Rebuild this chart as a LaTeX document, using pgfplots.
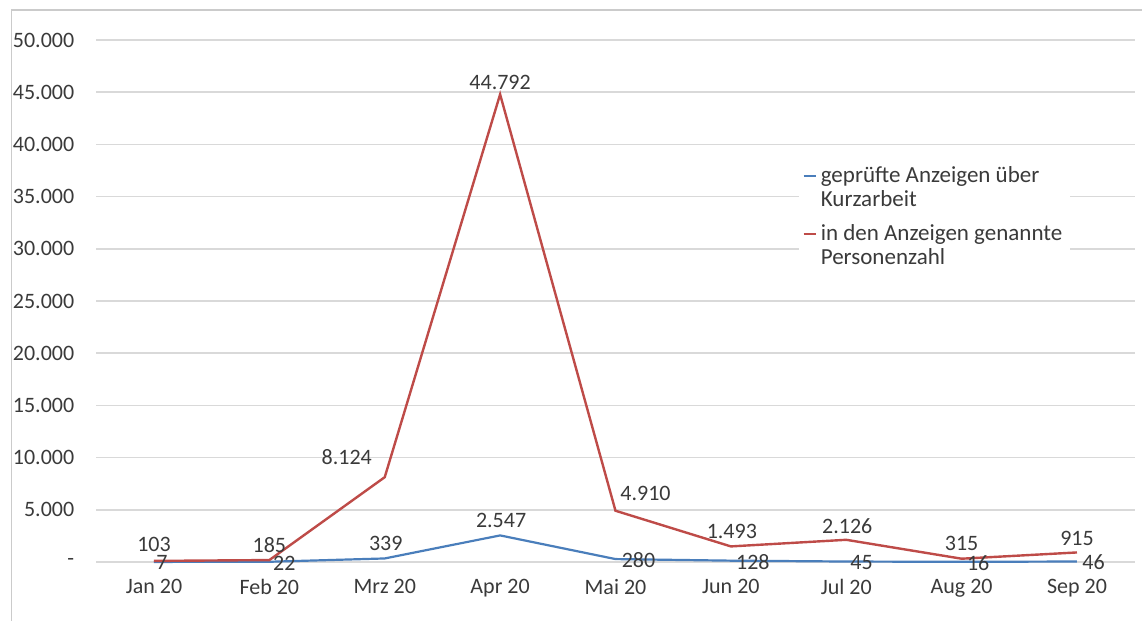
\documentclass[border=0pt]{standalone}
\usepackage{fontspec}
\setmainfont{Carlito}
\usepackage{pgfplots}
\pgfplotsset{compat=1.18}
\usepackage{pgfplotstable}
\definecolor{blueS}{HTML}{4A7EBB}
\definecolor{redS}{HTML}{BE4B48}
\definecolor{txt}{HTML}{3A3A3A}
\definecolor{gridc}{HTML}{D9D9D9}

\pgfplotstableread{
x y lab dx dy
0 7 7 4 -0.5
1 22 22 7.5 -1
2 339 339 0.5 7.7
3 2547 2.547 0.5 7.5
4 280 280 11.5 -0.3
5 128 128 11 -0.5
6 45 45 7.7 -0.5
7 16 16 8.3 -0.5
8 46 46 8.3 -0.5
}\tblue

\pgfplotstableread{
x y lab dx dy
0 103 103 0 8
1 185 185 0 7.5
2 8124 8.124 -19 10
3 44792 44.792 0 6
4 4910 4.910 15 8.5
5 1493 1.493 0.5 7.5
6 2126 2.126 0.5 7
7 315 315 0 7.5
8 915 915 0 7
}\tred

\begin{document}
\begin{tikzpicture}
\useasboundingbox (-48.15pt,-29.5pt) rectangle (522.85pt,281pt);
\draw[gridc!85!gray, line width=0.8pt] (-42.4pt,-35pt) -- (-42.4pt,276pt) -- (530pt,276pt);
\begin{axis}[
  scale only axis, width=519.2pt, height=261pt,
  at={(0,0)}, anchor=south west,
  clip=false,
  xmin=-0.5, xmax=8.5, ymin=0, ymax=50000,
  xtick={0,...,8},
  xticklabels={Jan 20, Feb 20, Mrz 20, Apr 20, Mai 20, Jun 20, Jul 20, Aug 20, Sep 20},
  ytick={0,5000,...,50000},
  yticklabels={-,5.000,10.000,15.000,20.000,25.000,30.000,35.000,40.000,45.000,50.000},
  scaled y ticks=false,
  ymajorgrids, grid style={gridc, line width=0.75pt},
  axis line style={draw=none},
  major tick length=0pt,
  tick label style={font=\fontsize{11}{13}\selectfont, text=txt},
  yticklabel style={xshift=-7.5pt},
  xticklabel style={yshift=-5pt},
  legend style={at={(0.676,0.782)}, anchor=north west, draw=none, fill=white,
    font=\fontsize{11.5}{12}\selectfont, text=txt, cells={align=left},
    row sep=3.5pt, inner xsep=2pt, inner ysep=4pt},
  legend image code/.code={\draw[#1, line width=1.1pt] (0pt,6pt) -- (6pt,6pt);},
  legend cell align=left,
]
\addplot[blueS, line width=1.1pt, no markers,
  point meta=explicit symbolic, nodes near coords,
  visualization depends on={\thisrow{dx} \as \dx},
  visualization depends on={\thisrow{dy} \as \dy},
  every node near coord/.append style={anchor=center, xshift=\dx pt, yshift=\dy pt,
    font=\fontsize{11}{13}\selectfont, text=txt}]
  table[x=x, y=y, meta=lab] {\tblue};
\addlegendentry{geprüfte Anzeigen über\\Kurzarbeit}
\addplot[redS, line width=1.2pt, no markers,
  point meta=explicit symbolic, nodes near coords,
  visualization depends on={\thisrow{dx} \as \dx},
  visualization depends on={\thisrow{dy} \as \dy},
  every node near coord/.append style={anchor=center, xshift=\dx pt, yshift=\dy pt,
    font=\fontsize{11}{13}\selectfont, text=txt}]
  table[x=x, y=y, meta=lab] {\tred};
\addlegendentry{in den Anzeigen genannte\\Personenzahl}
\end{axis}
\end{tikzpicture}
\end{document}
